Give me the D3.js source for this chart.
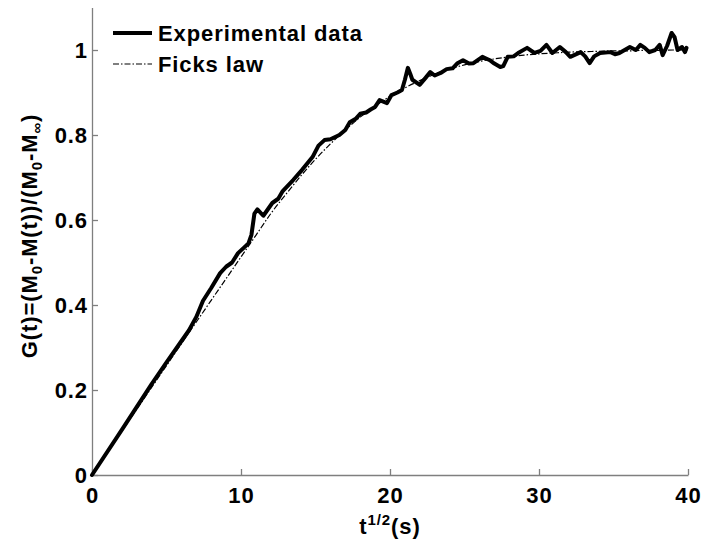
<!DOCTYPE html>
<html>
<head>
<meta charset="utf-8">
<script src="https://cdn.jsdelivr.net/npm/d3@7"></script>
<style>
  body { margin: 0; background: #fff; }
  svg text { font-family: "Liberation Sans", Arial, sans-serif; font-weight: bold; fill: #000; letter-spacing: 0.9px; }
</style>
</head>
<body>
<svg id="chart" width="701" height="539"></svg>
<script>
// ---- data ----
const xTicks = [0, 10, 20, 30, 40];
const yTicks = [0, 0.2, 0.4, 0.6, 0.8, 1];
const yTickLabels = ["0", "0.2", "0.4", "0.6", "0.8", "1"];
const seriesNames = ["Experimental data", "Ficks law"];

const expX = [0, 2, 4, 5, 5.9, 6.5, 7.0, 7.45, 8.0, 8.6, 9.0, 9.4, 9.8, 10.2, 10.5, 10.7, 10.9, 11.1, 11.5,
  12.1, 12.5, 12.8, 13.5, 14.1, 14.8, 15.2, 15.6, 16.0, 16.6, 17.0, 17.3, 17.7, 18.0, 18.4, 18.7, 19.0, 19.3, 19.8, 20.1, 20.5, 20.8,
  21.0, 21.2, 21.35, 21.5, 22.0, 22.4, 22.7, 23.0, 23.4, 23.8, 24.2, 24.5, 24.9, 25.3, 25.6, 26.2, 26.7, 27.0,
  27.4, 27.6, 27.9, 28.3, 28.6, 29.2, 29.7, 30.1, 30.5, 30.9, 31.4, 31.8, 32.1, 32.8, 33.1, 33.4, 33.7, 34.1,
  34.8, 35.1, 35.4, 36.1, 36.5, 36.8, 37.1, 37.4, 37.8, 38.1, 38.3, 38.6, 38.9, 39.1, 39.3, 39.6, 39.8, 39.9];
const expY = [0, 0.106, 0.214, 0.265, 0.31, 0.34, 0.372, 0.41, 0.44, 0.475, 0.49, 0.50, 0.522, 0.535, 0.545, 0.565, 0.615, 0.625, 0.61,
  0.64, 0.65, 0.668, 0.694, 0.718, 0.748, 0.775, 0.788, 0.79, 0.80, 0.812, 0.83, 0.838, 0.85, 0.853, 0.86, 0.866, 0.882, 0.875, 0.894, 0.90, 0.906,
  0.93, 0.958, 0.945, 0.93, 0.918, 0.935, 0.948, 0.94, 0.946, 0.955, 0.957, 0.968, 0.976, 0.968, 0.969, 0.984, 0.976, 0.968,
  0.96, 0.962, 0.984, 0.985, 0.993, 1.005, 0.993, 0.998, 1.012, 0.993, 1.007, 0.995, 0.984, 0.995, 0.985, 0.969, 0.985, 0.993,
  0.995, 0.99, 0.993, 1.007, 1.0, 1.012, 1.005, 0.995, 1.0, 1.012, 0.988, 1.01, 1.04, 1.03, 1.0, 1.007, 0.995, 1.005];

const fickX = [0, 1, 2, 3, 4, 5, 6, 7, 8, 9, 10, 11, 12, 13, 14, 15, 16, 17, 18, 19, 20,
  21, 22, 23, 24, 25, 26, 27, 28, 29, 30, 31, 32, 33, 34, 35, 36, 37, 38, 39, 40];
const fickY = [0, 0.0515, 0.103, 0.1545, 0.206, 0.2575, 0.309, 0.36, 0.411, 0.462, 0.513, 0.564, 0.615, 0.66, 0.703, 0.743,
  0.779, 0.812, 0.842, 0.868, 0.891, 0.911, 0.928, 0.943, 0.955, 0.965, 0.973, 0.979, 0.984, 0.988, 0.991,
  0.993, 0.995, 0.996, 0.997, 0.998, 0.998, 0.999, 0.999, 1.0, 1.0];

// ---- layout ----
const svg = d3.select("#chart");
const mLeft = 92, mRight = 688, mTop = 7.5, mBottom = 475;
const x = d3.scaleLinear().domain([0, 40]).range([mLeft, mRight]);
const y = d3.scaleLinear().domain([0, 1.1]).range([mBottom, mTop]);
const axisColor = "#7f7f7f";
const fs = 22, fsSmall = 15;

// axes
const xAxis = svg.append("g").attr("transform", `translate(0,${mBottom})`)
  .call(d3.axisBottom(x).tickValues(xTicks).tickSizeInner(-6).tickSizeOuter(0).tickPadding(12));
const yAxis = svg.append("g").attr("transform", `translate(${mLeft},0)`)
  .call(d3.axisLeft(y).tickValues(yTicks).tickFormat((d, i) => yTickLabels[i]).tickSizeInner(-6).tickSizeOuter(0).tickPadding(4));
[xAxis, yAxis].forEach(g => {
  g.select(".domain").attr("stroke", axisColor).attr("stroke-width", 1.3);
  g.selectAll(".tick line").attr("stroke", axisColor).attr("stroke-width", 1.3);
  g.selectAll(".tick text").attr("font-size", fs).attr("font-family", "Liberation Sans, Arial, sans-serif")
    .attr("font-weight", "bold").attr("fill", "#000");
});
xAxis.selectAll(".tick text").attr("dy", "0.71em");
yAxis.selectAll(".tick text").attr("dy", "0.35em");

// lines
const expData = expX.map((v, i) => [v, expY[i]]);
const fickData = fickX.map((v, i) => [v, fickY[i]]);

svg.append("path").datum(fickData).attr("d", d3.line().curve(d3.curveMonotoneX).x(d => x(d[0])).y(d => y(d[1])))
  .attr("fill", "none").attr("stroke", "#000").attr("stroke-width", 1.2)
  .attr("stroke-dasharray", "6,2,1.5,2");
svg.append("path").datum(expData).attr("d", d3.line().x(d => x(d[0])).y(d => y(d[1])))
  .attr("fill", "none").attr("stroke", "#000").attr("stroke-width", 4)
  .attr("stroke-linejoin", "round").attr("stroke-linecap", "round");

// legend
const lg = svg.append("g");
lg.append("line").attr("x1", 113).attr("x2", 152).attr("y1", 33).attr("y2", 33)
  .attr("stroke", "#000").attr("stroke-width", 4);
lg.append("text").attr("x", 158).attr("y", 41).attr("font-size", fs).text(seriesNames[0]);
lg.append("line").attr("x1", 113).attr("x2", 152).attr("y1", 64).attr("y2", 64)
  .attr("stroke", "#000").attr("stroke-width", 1.2).attr("stroke-dasharray", "6,2,1.5,2");
lg.append("text").attr("x", 158).attr("y", 72).attr("font-size", fs).text(seriesNames[1]);

// x label
const xl = svg.append("text").attr("x", (mLeft + mRight) / 2).attr("y", 534)
  .attr("text-anchor", "middle").attr("font-size", fs);
xl.append("tspan").text("t");
xl.append("tspan").attr("dy", -9).attr("font-size", fsSmall).text("1/2");
xl.append("tspan").attr("dy", 9).text("(s)");

// y label
const yl = svg.append("text")
  .attr("transform", `translate(37,236) rotate(-90)`)
  .attr("text-anchor", "middle").attr("font-size", fs);
yl.append("tspan").text("G(t)=(M");
yl.append("tspan").attr("dy", 5).attr("font-size", fsSmall).text("0");
yl.append("tspan").attr("dy", -5).text("-M(t))/(M");
yl.append("tspan").attr("dy", 5).attr("font-size", fsSmall).text("0");
yl.append("tspan").attr("dy", -5).text("-M");
yl.append("tspan").attr("dy", 5).attr("font-size", fsSmall).text("∞");
yl.append("tspan").attr("dy", -5).text(")");
</script>
</body>
</html>
